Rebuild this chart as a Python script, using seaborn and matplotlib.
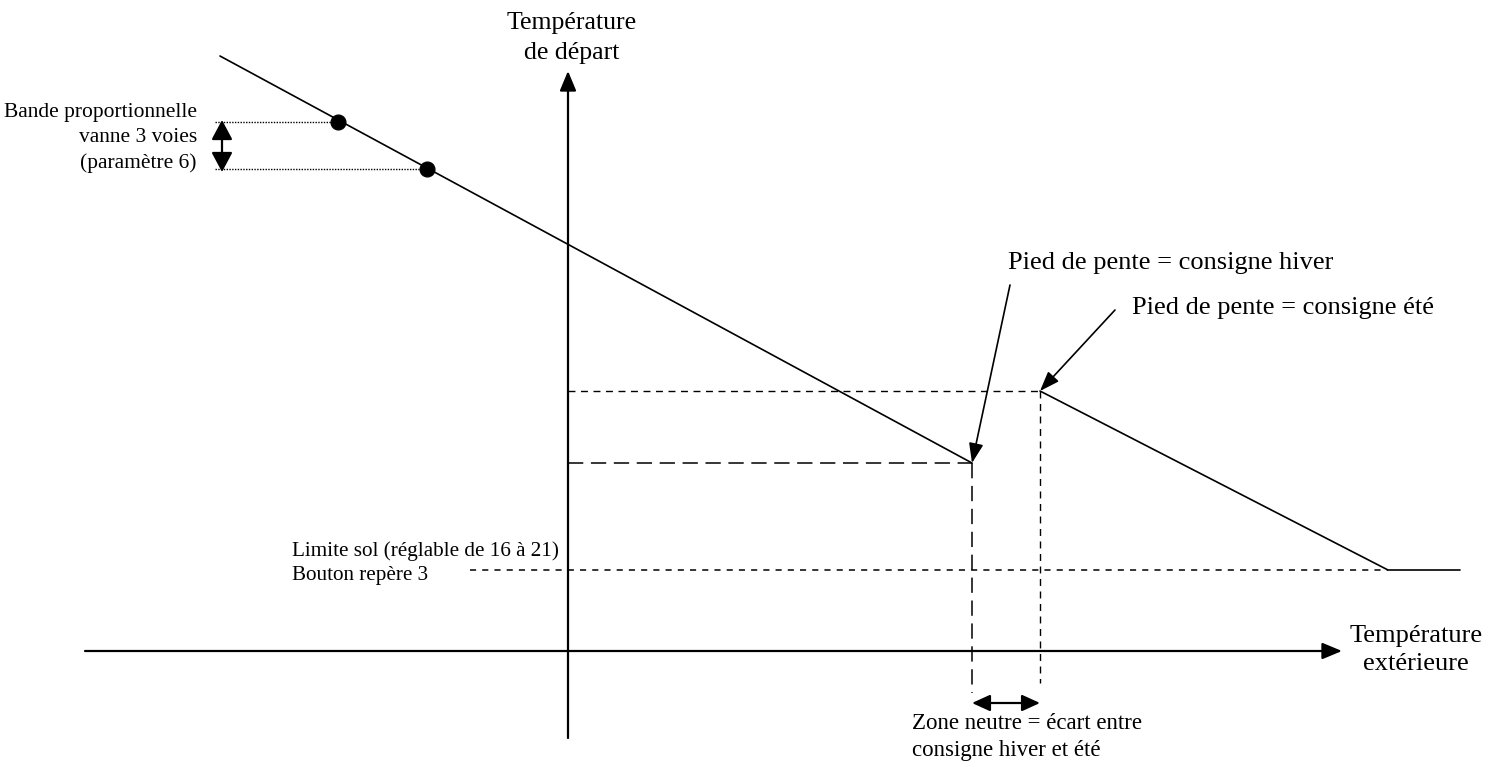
import matplotlib.pyplot as plt
import pandas as pd
import seaborn as sns

# diagram units: origin where the two axes cross, y upwards
pente_hiver_x = [-348, 404]
pente_hiver_y = [595, 188]
pente_ete_x = [472, 820, 892]
pente_ete_y = [260, 81, 81]
bande_x = [-230, -141]
bande_y = [529, 482]
consigne_hiver = (404, 188)
consigne_ete = (472, 260)
limite_sol = 81

sns.set_theme(style="white")
plt.rcParams["font.family"] = ["Liberation Serif", "DejaVu Serif"]
plt.rcParams["text.color"] = "black"

fig, ax = plt.subplots(figsize=(15.01, 7.67), dpi=100)
fig.subplots_adjust(0, 0, 1, 1)
ax.set_xlim(-568, 933)
ax.set_ylim(-116, 651)
ax.axis("off")

# axes with arrows
axis_arrow = dict(arrowstyle="-|>,head_length=0.6,head_width=0.25", color="black",
                  lw=1.6, shrinkA=0, shrinkB=0, mutation_scale=20)
ax.annotate("", xy=(774, 0), xytext=(-483, 0), arrowprops=axis_arrow)
ax.annotate("", xy=(0, 580), xytext=(0, -87), arrowprops=axis_arrow)

# heating curves
df_h = pd.DataFrame({"x": pente_hiver_x, "y": pente_hiver_y})
df_e = pd.DataFrame({"x": pente_ete_x, "y": pente_ete_y})
sns.lineplot(data=df_h, x="x", y="y", color="black", lw=1.2, sort=False, estimator=None, ax=ax)
sns.lineplot(data=df_e, x="x", y="y", color="black", lw=1.2, sort=False, estimator=None, ax=ax)
sns.scatterplot(x=bande_x, y=bande_y, color="black", s=115, edgecolor="black", zorder=5, ax=ax)

# guide lines
hx, hy = consigne_hiver
ex, ey = consigne_ete
ax.plot([0, hx], [hy, hy], color="black", lw=1.1, dashes=(10, 5))
ax.plot([hx, hx], [hy, -42], color="black", lw=1.1, dashes=(10, 5))
ax.plot([0, ex], [ey, ey], color="black", lw=1.0, dashes=(5, 4))
ax.plot([ex, ex], [ey, -32], color="black", lw=1.0, dashes=(5, 4))
ax.plot([-98, pente_ete_x[1]], [limite_sol, limite_sol], color="black", lw=1.1, dashes=(4, 4))
for bx, by in zip(bande_x, bande_y):
    ax.plot([-353, bx], [by, by], color="black", lw=1.0, ls=(0, (1, 1)))

# double arrows
dbl_v = dict(arrowstyle="<|-|>,head_length=0.6,head_width=0.32", color="black", lw=1.6,
             shrinkA=0, shrinkB=0, mutation_scale=20)
dbl_h = dict(arrowstyle="<|-|>,head_length=0.55,head_width=0.25", color="black", lw=1.6,
             shrinkA=0, shrinkB=0, mutation_scale=20)
ax.annotate("", xy=(-346, bande_y[1] - 3), xytext=(-346, bande_y[0] + 2), arrowprops=dbl_v)
ax.annotate("", xy=(ex, -52), xytext=(hx, -52), arrowprops=dbl_h)

# pointer arrows
ptr = dict(arrowstyle="-|>,head_length=0.6,head_width=0.22", color="black", lw=1.2,
           shrinkA=0, shrinkB=0, mutation_scale=20)
ax.annotate("", xy=(hx, hy), xytext=(442, 366), arrowprops=ptr)
ax.annotate("", xy=(ex, ey), xytext=(547, 341), arrowprops=ptr)

# labels
ax.text(4, 613, "Température\nde départ", ha="center", va="center", fontsize=18.5, linespacing=1.45)
ax.text(-371, 513, "Bande proportionnelle\nvanne 3 voies\n(paramètre 6)", ha="right", va="center",
        fontsize=15.5, linespacing=1.4)
ax.text(440, 388, "Pied de pente = consigne hiver", ha="left", va="center", fontsize=19)
ax.text(564, 343, "Pied de pente = consigne été", ha="left", va="center", fontsize=19)
ax.text(-276, 88, "Limite sol (réglable de 16 à 21)\nBouton repère 3", ha="left", va="center",
        fontsize=15.2, linespacing=1.35)
ax.text(848, 1, "Température\nextérieure", ha="center", va="center", fontsize=19, linespacing=1.35)
ax.text(344, -86, "Zone neutre = écart entre\nconsigne hiver et été", ha="left", va="center",
        fontsize=16.5, linespacing=1.35)

fig.savefig("out.png")
